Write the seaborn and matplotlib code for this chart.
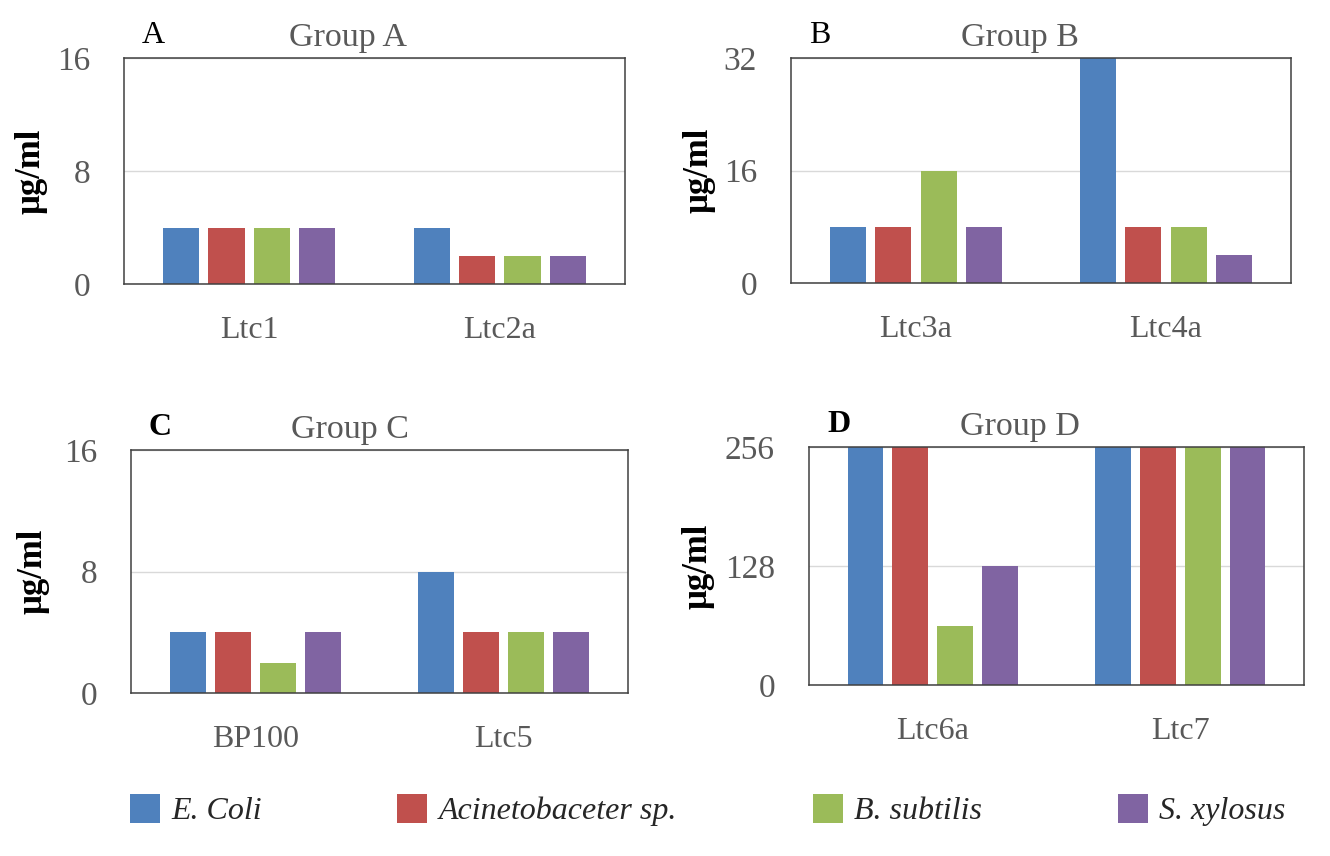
import numpy as np
import pandas as pd
import matplotlib
matplotlib.use('Agg')
import matplotlib.pyplot as plt
from matplotlib.patches import Patch
import seaborn as sns

# data (MIC values, ug/ml)
strains = ['E. Coli', 'Acinetobaceter sp.', 'B. subtilis', 'S. xylosus']
colors = ['#4F81BD', '#C0504D', '#9BBB59', '#8064A2']

peptides_a = ['Ltc1', 'Ltc2a']
values_a = [[4, 4, 4, 4], [4, 2, 2, 2]]

peptides_b = ['Ltc3a', 'Ltc4a']
values_b = [[8, 8, 16, 8], [32, 8, 8, 4]]

peptides_c = ['BP100', 'Ltc5']
values_c = [[4, 4, 2, 4], [8, 4, 4, 4]]

peptides_d = ['Ltc6a', 'Ltc7']
values_d = [[256, 256, 64, 128], [256, 256, 256, 256]]

sns.set_theme(style='white')
plt.rcParams['font.family'] = ['Liberation Serif', 'DejaVu Serif']

W, H = 1330, 856
fig = plt.figure(figsize=(W / 100, H / 100), dpi=100)

# panel layout in pixels: left, top, right, bottom
panels = [
    ('A', 'Group A', peptides_a, values_a, [0, 8, 16], (124, 58, 625, 284), 'normal', 0.447, -0.152),
    ('B', 'Group B', peptides_b, values_b, [0, 16, 32], (791, 58, 1291, 283), 'normal', 0.458, -0.15),
    ('C', 'Group C', peptides_c, values_c, [0, 8, 16], (131, 450, 628, 693), 'bold', 0.44, -0.163),
    ('D', 'Group D', peptides_d, values_d, [0, 128, 256], (809, 447, 1304, 685), 'bold', 0.426, -0.19),
]

gray = '#595959'

for letter, title, peptides, values, yticks, box, lw, tx, ylx in panels:
    l, t, r, b = box
    ax = fig.add_axes([l / W, 1 - b / H, (r - l) / W, (b - t) / H])
    df = pd.DataFrame({
        'peptide': np.repeat(peptides, len(strains)),
        'strain': strains * len(peptides),
        'mic': np.concatenate(values),
    })
    sns.barplot(data=df, x='peptide', y='mic', hue='strain', hue_order=strains,
                palette=colors, saturation=1, width=0.724, gap=0.2,
                errorbar=None, legend=False, linewidth=0, ax=ax)
    ax.set_ylim(yticks[0], yticks[-1])
    ax.set_yticks(yticks)
    ax.set_xlabel('')
    ax.set_ylabel('μg/ml', fontsize=25, fontweight='bold', color='black')
    ax.yaxis.set_label_coords(ylx, 0.5)
    ax.tick_params(axis='y', length=0, pad=24.5, labelsize=24, labelcolor=gray)
    ax.tick_params(axis='x', length=0, pad=23, labelsize=23, labelcolor=gray)
    ax.grid(axis='y', color='#D9D9D9', linewidth=1)
    ax.set_axisbelow(True)
    for sp in ax.spines.values():
        sp.set_visible(True)
        sp.set_color('#404040')
        sp.set_linewidth(1.1)
    ax.text(tx, 1 + 12 / (b - t), title, transform=ax.transAxes, ha='center',
            va='baseline', fontsize=24.5, color=gray)
    fig.text((l + 18) / W, 1 - (t - 15) / H, letter, fontsize=23,
             fontweight=lw, va='baseline', ha='left', color='black')

handles = [Patch(facecolor=c, edgecolor='none', label=s) for c, s in zip(colors, strains)]
fig.legend(handles=handles, loc='center', bbox_to_anchor=(0.532, 0.054), ncol=4,
           frameon=False, prop=dict(family='Liberation Serif', style='italic', size=23),
           handlelength=0.94, handleheight=1.03, handletextpad=0.35, columnspacing=4.25)

fig.savefig('out.png', dpi=100)
